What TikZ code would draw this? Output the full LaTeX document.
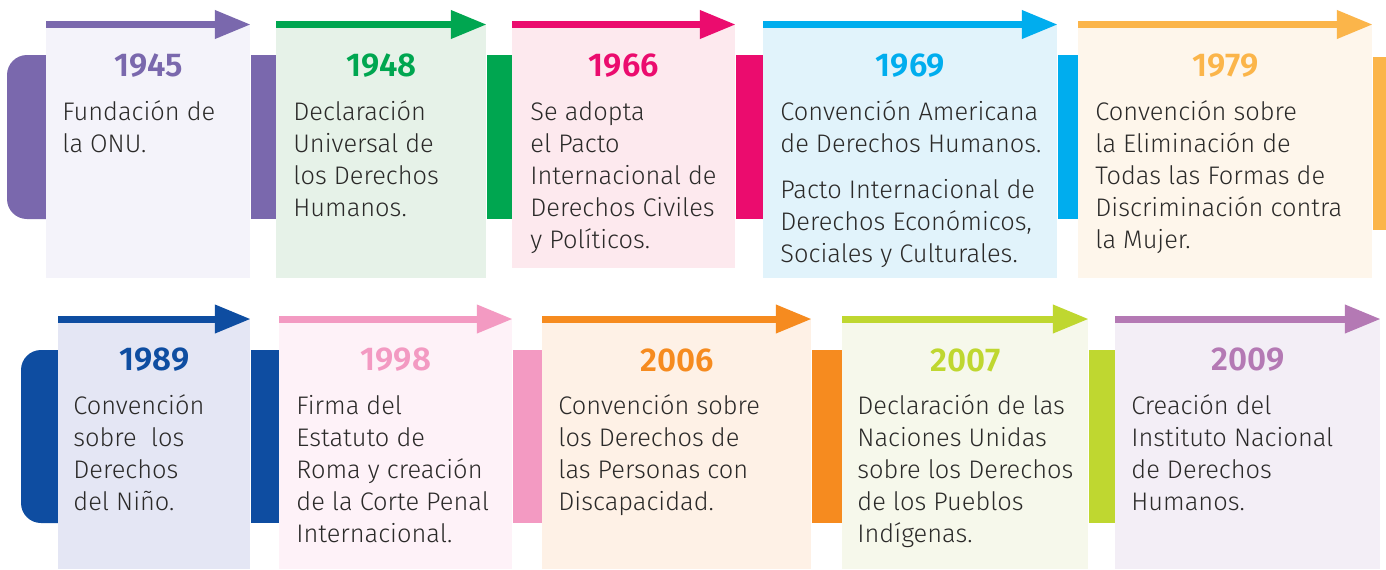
\documentclass[tikz,border=0pt]{standalone}
\usepackage{fontspec}
\setmainfont{Fira Sans Light}[BoldFont={Fira Sans SemiBold}]
\usepackage{tikz}
\usetikzlibrary{arrows.meta,backgrounds}
\definecolor{textdark}{HTML}{2B2A29}
\definecolor{c45}{HTML}{7A68AD}\definecolor{bg45}{HTML}{F4F3FA}
\definecolor{c48}{HTML}{00A650}\definecolor{bg48}{HTML}{E6F2E8}
\definecolor{c66}{HTML}{EB0C6E}\definecolor{bg66}{HTML}{FDE9EE}
\definecolor{c69}{HTML}{00ADEE}\definecolor{bg69}{HTML}{E1F3FB}
\definecolor{c79}{HTML}{FBB54A}\definecolor{bg79}{HTML}{FEF6EB}
\definecolor{c89}{HTML}{0E4DA1}\definecolor{bg89}{HTML}{E4E6F4}
\definecolor{c98}{HTML}{F39AC2}\definecolor{bg98}{HTML}{FEF2F8}
\definecolor{c06}{HTML}{F68B1F}\definecolor{bg06}{HTML}{FEF1E6}
\definecolor{c07}{HTML}{BFD730}\definecolor{bg07}{HTML}{F6F8EB}
\definecolor{c09}{HTML}{B479B4}\definecolor{bg09}{HTML}{F3EEF6}
\tikzset{
  card/.style={rectangle, anchor=north west, inner sep=0pt, minimum height=126.5pt},
  card2/.style={rectangle, anchor=north west, inner sep=0pt, minimum height=125pt},
  yearlabel/.style={inner sep=0pt, font=\fontsize{16.5}{19}\selectfont\bfseries},
  bodytext/.style={anchor=north west, inner sep=0pt, align=left, text=textdark, font=\fontsize{12.7}{16}\selectfont},
  toparrow/.style={-{Triangle[length=18pt,width=13.5pt]}, line width=3.5pt}
}
\begin{document}
\begin{tikzpicture}[x=0.5pt, y=-0.5pt]
  \useasboundingbox (0,0) rectangle (1386,569);
  % top row
  \node[card, fill=bg45, minimum width=102pt] (c1945) at (46,24.5) {};
  \node[card, fill=bg48, minimum width=105pt] (c1948) at (276,24.5) {};
  \node[card, fill=bg66, minimum width=111.5pt, minimum height=121.5pt] (c1966) at (512,24.5) {};
  \node[card, fill=bg69, minimum width=147pt] (c1969) at (763,24.5) {};
  \node[card, fill=bg79, minimum width=147pt] (c1979) at (1078,24.5) {};
  % bottom row
  \node[card2, fill=bg89, minimum width=96pt] (c1989) at (58,319) {};
  \node[card2, fill=bg98, minimum width=116.5pt] (c1998) at (279,319) {};
  \node[card2, fill=bg06, minimum width=134.5pt] (c2006) at (542,319) {};
  \node[card2, fill=bg07, minimum width=123pt] (c2007) at (842,319) {};
  \node[card2, fill=bg09, minimum width=132.5pt] (c2009) at (1115,319) {};

  % arrows on top of the cards
  \draw[toparrow, c45] (c1945.north west) -- (c1945.north east);
  \draw[toparrow, c48] (c1948.north west) -- (c1948.north east);
  \draw[toparrow, c66] (c1966.north west) -- (c1966.north east);
  \draw[toparrow, c69] (c1969.north west) -- (c1969.north east);
  \draw[toparrow, c79] (c1979.north west) -- (c1979.north east);
  \draw[toparrow, c89] (c1989.north west) -- (c1989.north east);
  \draw[toparrow, c98] (c1998.north west) -- (c1998.north east);
  \draw[toparrow, c06] (c2006.north west) -- (c2006.north east);
  \draw[toparrow, c07] (c2007.north west) -- (c2007.north east);
  \draw[toparrow, c09] (c2009.north west) -- (c2009.north east);

  % years
  \node[yearlabel, text=c45] (y1945) at ([yshift=-20.5pt]c1945.north) {1945};
  \node[yearlabel, text=c48] (y1948) at ([yshift=-20.5pt]c1948.north) {1948};
  \node[yearlabel, text=c66] (y1966) at ([yshift=-20.5pt]c1966.north) {1966};
  \node[yearlabel, text=c69] (y1969) at ([yshift=-20.5pt]c1969.north) {1969};
  \node[yearlabel, text=c79] (y1979) at ([yshift=-20.5pt]c1979.north) {1979};
  \node[yearlabel, text=c89] (y1989) at ([yshift=-20.5pt]c1989.north) {1989};
  \node[yearlabel, text=c98] (y1998) at ([yshift=-20.5pt]c1998.north) {1998};
  \node[yearlabel, text=c06] (y2006) at ([yshift=-20.5pt]c2006.north) {2006};
  \node[yearlabel, text=c07] (y2007) at ([yshift=-20.5pt]c2007.north) {2007};
  \node[yearlabel, text=c09] (y2009) at ([yshift=-20.5pt]c2009.north) {2009};

  % texts
  \node[bodytext] (t1945) at ([xshift=8pt,yshift=-36.5pt]c1945.north west) {\strut Fundación de\\la ONU.};
  \node[bodytext] (t1948) at ([xshift=8.5pt,yshift=-36.5pt]c1948.north west) {\strut Declaración\\Universal de\\los Derechos\\Humanos.};
  \node[bodytext] (t1966) at ([xshift=9pt,yshift=-36.5pt]c1966.north west) {\strut Se adopta\\el Pacto\\Internacional de\\Derechos Civiles\\y Políticos.};
  \node[bodytext] (t1969) at ([xshift=8.5pt,yshift=-36.5pt]c1969.north west) {\strut Convención Americana\\de Derechos Humanos.\\[7pt]Pacto Internacional de\\Derechos Económicos,\\Sociales y Culturales.};
  \node[bodytext] (t1979) at ([xshift=8.5pt,yshift=-36.5pt]c1979.north west) {\strut Convención sobre\\la Eliminación de\\Todas las Formas de\\Discriminación contra\\la Mujer.};
  \node[bodytext] (t1989) at ([xshift=7.5pt,yshift=-36.2pt]c1989.north west) {\strut Convención\\sobre\ \ los\\Derechos\\del Niño.};
  \node[bodytext] (t1998) at ([xshift=8.5pt,yshift=-36.2pt]c1998.north west) {\strut Firma del\\Estatuto de\\Roma y creación\\de la Corte Penal\\Internacional.};
  \node[bodytext] (t2006) at ([xshift=8pt,yshift=-36.2pt]c2006.north west) {\strut Convención sobre\\los Derechos de\\las Personas con\\Discapacidad.};
  \node[bodytext] (t2007) at ([xshift=7.5pt,yshift=-36.2pt]c2007.north west) {\strut Declaración de las\\Naciones Unidas\\sobre los Derechos\\de los Pueblos\\Indígenas.};
  \node[bodytext] (t2009) at ([xshift=8pt,yshift=-36.2pt]c2009.north west) {\strut Creación del\\Instituto Nacional\\de Derechos\\Humanos.};

  % timeline band behind the cards
  \begin{scope}[on background layer]
    \fill[white] (0,0) rectangle (1386,569);
    \fill[c45, rounded corners=10pt] (7,55) rectangle (c1945.center |- 0,219);
    \fill[c45] (c1945.east |- 0,55) rectangle (c1948.west |- 0,219);
    \fill[c48] (c1948.east |- 0,55) rectangle (c1966.west |- 0,219);
    \fill[c66] (c1966.east |- 0,55) rectangle (c1969.west |- 0,219);
    \fill[c69] (c1969.east |- 0,55) rectangle (c1979.west |- 0,219);
    \fill[c79] (c1979.east |- 0,57) rectangle (1386,230);
    \fill[c89, rounded corners=10pt] (21,350) rectangle (c1989.center |- 0,523);
    \fill[c89] (c1989.east |- 0,350) rectangle (c1998.west |- 0,523);
    \fill[c98] (c1998.east |- 0,350) rectangle (c2006.west |- 0,523);
    \fill[c06] (c2006.east |- 0,350) rectangle (c2007.west |- 0,523);
    \fill[c07] (c2007.east |- 0,350) rectangle (c2009.west |- 0,523);
  \end{scope}
\end{tikzpicture}
\end{document}
